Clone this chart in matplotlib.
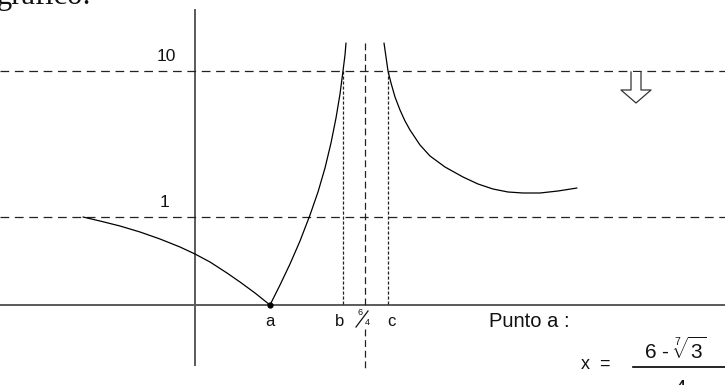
import matplotlib.pyplot as plt

# everything in picture units: x to the right, y downwards
W, H = 725, 385
X_AXIS_Y = 305
Y_AXIS_X = 195

LEVEL_LABELS = ["10", "1"]
LEVEL_Y = [71, 217]
LEVEL_LABEL_POS = [(176, 61), (169, 207)]

# branch left of a (decreasing towards a)
left_x = [83, 100, 120, 140, 160, 180, 195, 210, 227, 240, 255, 270]
left_y = [217, 221, 226, 232, 239, 247, 254, 262, 273, 282, 293, 305]

# branch between a and the asymptote
mid_x = [270, 280, 290, 300, 310, 318, 325, 331, 336, 340, 343, 345, 346]
mid_y = [305, 285, 264, 241, 215, 192, 168, 143, 118, 94, 71, 55, 43]

# branch right of the asymptote
right_x = [384, 386, 388, 391, 395, 400, 405, 410, 420, 430, 445, 463, 478, 493, 508, 523, 540, 558, 577]
right_y = [43, 57, 71, 83, 97, 110, 121, 130, 145, 156, 167, 177, 184, 189, 192, 193, 193, 191, 188]

POINT_A = (270, 305)
B_X, C_X, ASYM_X = 343, 388, 365
TICK_LABELS = ["a", "b", "c"]
TICK_X = [270, 340, 391]

ARROW_X = 636
ARROW_TOP, ARROW_NECK, ARROW_TIP = 72, 90, 103
ARROW_SHAFT, ARROW_HEAD = 5, 15

plt.rcParams['mathtext.fontset'] = 'custom'
plt.rcParams['mathtext.rm'] = 'Liberation Sans'
plt.rcParams['mathtext.it'] = 'Liberation Sans'

fig = plt.figure(figsize=(7.25, 3.85), dpi=100)
ax = fig.add_axes([0, 0, 1, 1])
ax.set_xlim(0, W)
ax.set_ylim(H, 0)
ax.axis('off')

sans = 'Liberation Sans'
ink = '#111111'

# cropped heading text at the top
ax.text(-3, 4, "gráfico:", family='Liberation Serif', fontsize=22, va='baseline', ha='left', color=ink)

# axes
ax.plot([Y_AXIS_X, Y_AXIS_X], [10, 365], color='#5a5a5a', lw=1.4)
ax.plot([0, W], [X_AXIS_Y, X_AXIS_Y], color='#5a5a5a', lw=1.4)

# horizontal levels
for lab, y, (tx, ty) in zip(LEVEL_LABELS, LEVEL_Y, LEVEL_LABEL_POS):
    ax.plot([0, W], [y, y], color='#222222', lw=0.9, dashes=(7, 4.5))
    ax.text(tx, ty, lab, family=sans, fontsize=12.5, ha='right', va='baseline', color=ink)

# vertical guides
for x in [B_X, C_X]:
    ax.plot([x, x], [LEVEL_Y[0], X_AXIS_Y], color='#222222', lw=0.9, dashes=(2.5, 1.5))
ax.plot([ASYM_X, ASYM_X], [43, 306], color='#222222', lw=0.9, dashes=(5.5, 3))
ax.plot([ASYM_X, ASYM_X], [329, 370], color='#222222', lw=0.9, dashes=(5.5, 3))

# curves
for xs, ys in [(left_x, left_y), (mid_x, mid_y), (right_x, right_y)]:
    ax.plot(xs, ys, color='black', lw=0.9, solid_capstyle='round', solid_joinstyle='round')
ax.plot(*POINT_A, 'o', color='black', markersize=3.5)

# tick letters
for lab, x in zip(TICK_LABELS, TICK_X):
    ax.text(x, 326, lab, family=sans, fontsize=12, ha='center', va='baseline', color=ink)

# 6/4 written as a slanted fraction
ax.text(360, 315, "6", family=sans, fontsize=6.5, ha='center', va='baseline', color=ink)
ax.plot([356, 368], [327, 311], color=ink, lw=0.9)
ax.text(367, 325, "4", family=sans, fontsize=6.5, ha='center', va='baseline', color=ink)

# hollow arrow
arrow_x = [ARROW_X - ARROW_SHAFT, ARROW_X - ARROW_SHAFT, ARROW_X - ARROW_HEAD, ARROW_X,
           ARROW_X + ARROW_HEAD, ARROW_X + ARROW_SHAFT, ARROW_X + ARROW_SHAFT]
arrow_y = [ARROW_TOP, ARROW_NECK, ARROW_NECK, ARROW_TIP, ARROW_NECK, ARROW_NECK, ARROW_TOP]
ax.fill(arrow_x, arrow_y, facecolor='white', edgecolor='none', zorder=3)
ax.plot(arrow_x, arrow_y, color='#333333', lw=0.9, zorder=4)

# point a formula
ax.text(489, 327, "Punto a :", family=sans, fontsize=14.5, ha='left', va='baseline', color=ink)
ax.text(581, 369, "x  =", family=sans, fontsize=13, ha='left', va='baseline', color=ink)
ax.text(675, 359, r"6 - $\sqrt[7]{3}$", family=sans, fontsize=15, ha='center', va='baseline', color=ink)
ax.plot([633, W], [367, 367], color='black', lw=1.2)
ax.text(680, 394, "4", family=sans, fontsize=15, ha='center', va='baseline', color=ink)

fig.savefig('out.png', dpi=100)
